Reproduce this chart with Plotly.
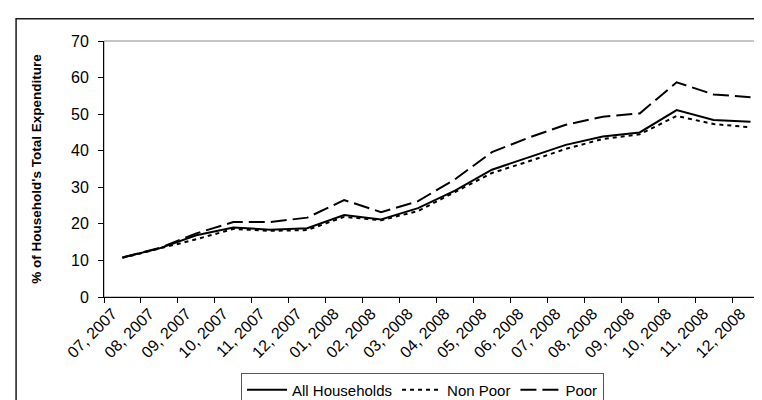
import plotly.graph_objects as go

months = ["07, 2007", "08, 2007", "09, 2007", "10, 2007", "11, 2007", "12, 2007",
          "01, 2008", "02, 2008", "03, 2008", "04, 2008", "05, 2008", "06, 2008",
          "07, 2008", "08, 2008", "09, 2008", "10, 2008", "11, 2008", "12, 2008"]
all_households = [10.8, 13.3, 16.9, 19.0, 18.4, 18.8, 22.4, 21.2, 24.3, 29.1,
                  34.8, 38.3, 41.6, 43.9, 45.0, 51.1, 48.4, 47.9]
non_poor = [10.7, 13.2, 15.8, 18.6, 18.1, 18.3, 21.9, 21.0, 23.5, 28.7,
            33.9, 37.1, 40.5, 43.2, 44.5, 49.5, 47.3, 46.4]
poor = [10.8, 13.4, 17.4, 20.5, 20.5, 21.7, 26.5, 23.2, 26.2, 32.2,
        39.6, 43.6, 47.1, 49.3, 50.2, 58.7, 55.4, 54.6]

fig = go.Figure()
fig.add_trace(go.Scatter(x=months, y=all_households, name="All Households", mode="lines",
                         line=dict(color="black", width=2)))
fig.add_trace(go.Scatter(x=months, y=non_poor, name="Non Poor", mode="lines",
                         line=dict(color="black", width=2, dash="4px,4px")))
fig.add_trace(go.Scatter(x=months, y=poor, name="Poor", mode="lines",
                         line=dict(color="black", width=2, dash="16px,6px")))

font = "Liberation Sans, Arial, sans-serif"
fig.update_layout(
    width=762, height=400,
    margin=dict(l=96, r=1, t=33, b=101),
    paper_bgcolor="white", plot_bgcolor="white",
    font=dict(family=font, size=15, color="black"),
    showlegend=True,
    legend=dict(orientation="h", x=0.206, y=-0.295, xanchor="left", yanchor="top",
                bordercolor="#555", borderwidth=1, bgcolor="white",
                font=dict(family=font, size=15, color="black"),
                itemwidth=40, tracegroupgap=0),
    xaxis=dict(type="category", range=[-0.5, 17.5], tickangle=-45,
               showline=True, linecolor="black", linewidth=1,
               ticks="outside", ticklen=5, tickcolor="black", tickson="boundaries",
               ticklabelshift=-10,
               showgrid=False, zeroline=False, fixedrange=True,
               tickfont=dict(family=font, size=16, color="black")),
    yaxis=dict(range=[0, 70], dtick=10, tick0=0,
               showline=True, linecolor="black", linewidth=1,
               ticks="outside", ticklen=5, tickcolor="black",
               ticklabelstandoff=6,
               showgrid=False, zeroline=False,
               tickfont=dict(family=font, size=16, color="black"),
               title=dict(text="<b>% of Household's Total Expenditure</b>",
                          font=dict(family=font, size=13.5, color="black"), standoff=26)),
    shapes=[
        dict(type="rect", xref="paper", yref="paper", x0=0, y0=0, x1=1, y1=1,
             line=dict(color="#8c8c8c", width=1), layer="below"),
        dict(type="rect", xref="paper", yref="paper", x0=-0.1322, y0=-0.5, x1=1.05, y1=1.0865,
             line=dict(color="#1a1a1a", width=1.5), layer="below"),
    ],
)

fig.write_html("out.html")
